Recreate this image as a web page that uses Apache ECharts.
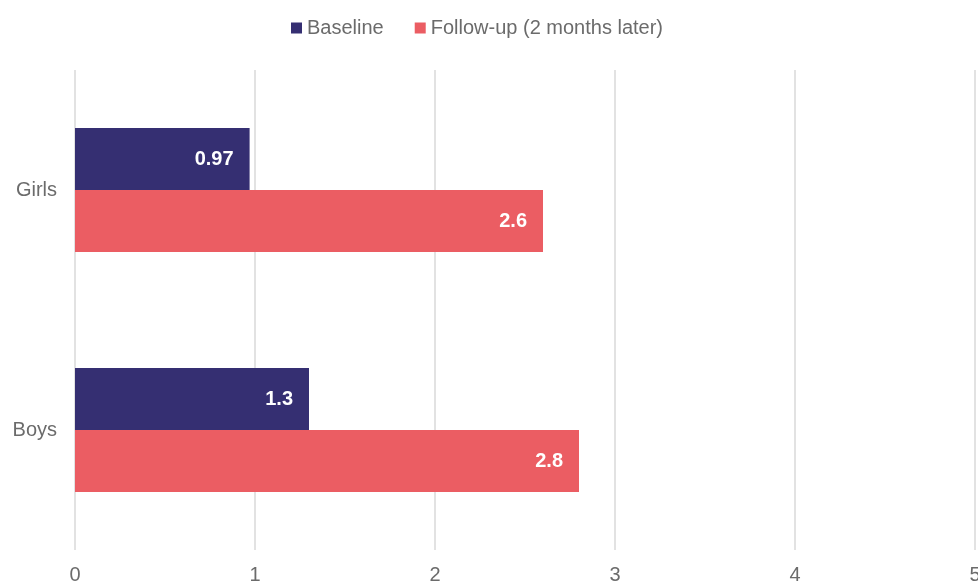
<!DOCTYPE html>
<html>
<head>
<meta charset="utf-8">
<script src="https://cdn.jsdelivr.net/npm/echarts@6/dist/echarts.min.js"></script>
<style>html,body{margin:0;padding:0;background:#fff;}#c{width:978px;height:583px;}</style>
</head>
<body>
<div id="c"></div>
<script>
var categories = ['Girls', 'Boys'];
var baseline = [0.97, 1.3];
var followUp = [2.6, 2.8];
var seriesNames = ['Baseline', 'Follow-up (2 months later)'];
var xTicks = [0, 1, 2, 3, 4, 5];

var chart = echarts.init(document.getElementById('c'));
var labelCfg = {
  show: true, position: 'insideRight', distance: 16,
  color: '#fff', fontSize: 20, fontWeight: 'bold', fontFamily: 'Liberation Sans'
};
chart.setOption({
  animation: false,
  textStyle: { fontFamily: 'Liberation Sans' },
  legend: {
    top: 13, left: 286, itemWidth: 11, itemHeight: 11, itemGap: 31,
    icon: 'rect',
    textStyle: { fontSize: 20, color: '#6b6b6b', fontFamily: 'Liberation Sans' },
    data: seriesNames
  },
  grid: { left: 75, right: 3, top: 70, bottom: 33, containLabel: false, outerBoundsMode: 'none' },
  xAxis: {
    type: 'value', min: xTicks[0], max: xTicks[xTicks.length - 1], interval: 1,
    axisLine: { show: false }, axisTick: { show: false },
    splitLine: { lineStyle: { color: '#d9d9d9', width: 1.5 } },
    axisLabel: { fontSize: 20, color: '#6b6b6b', margin: 15, fontFamily: 'Liberation Sans',
      showMinLabel: true, showMaxLabel: true, hideOverlap: false }
  },
  yAxis: {
    type: 'category', data: categories, inverse: true,
    axisLine: { show: false }, axisTick: { show: false },
    axisLabel: { fontSize: 20, color: '#6b6b6b', margin: 18, fontFamily: 'Liberation Sans' }
  },
  series: [
    { name: seriesNames[0], type: 'bar', data: baseline, barWidth: 62, barGap: '0%',
      itemStyle: { color: '#352F72' }, label: labelCfg },
    { name: seriesNames[1], type: 'bar', data: followUp, barWidth: 62, barGap: '0%',
      itemStyle: { color: '#EB5D63' }, label: labelCfg }
  ]
});
</script>
</body>
</html>
